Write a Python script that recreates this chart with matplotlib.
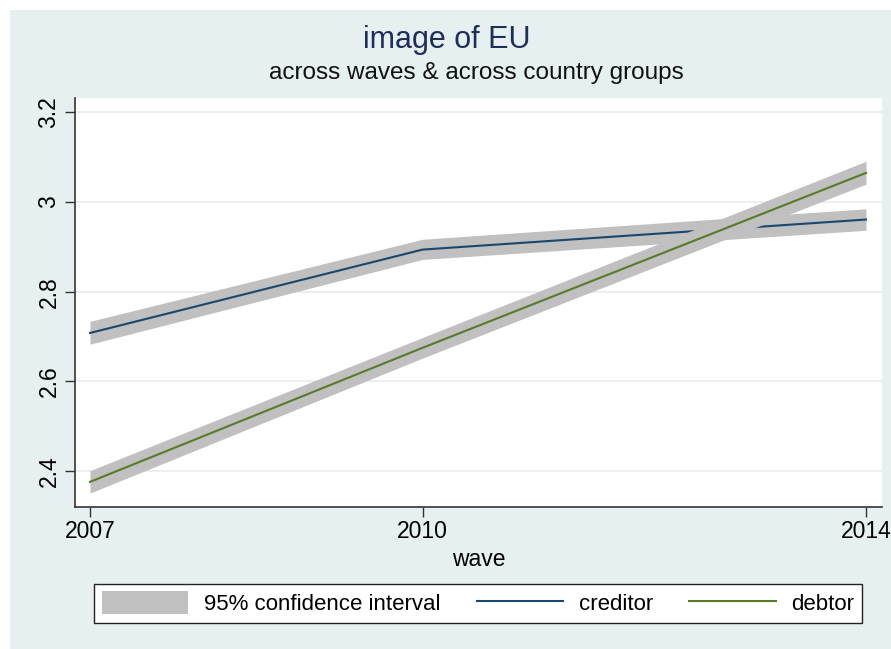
import matplotlib.pyplot as plt
from matplotlib.patches import Rectangle

plt.rcParams['font.family'] = ['Liberation Sans', 'DejaVu Sans']

waves = [2007, 2010, 2014]

creditor = [2.708, 2.894, 2.961]
creditor_lo = [2.683, 2.872, 2.937]
creditor_hi = [2.734, 2.917, 2.985]

debtor = [2.376, 2.675, 3.065]
debtor_lo = [2.351, 2.652, 3.040]
debtor_hi = [2.401, 2.698, 3.091]

y_ticks = [2.4, 2.6, 2.8, 3.0, 3.2]
y_labels = ['2.4', '2.6', '2.8', '3', '3.2']

W, H = 891, 649
fig = plt.figure(figsize=(W / 100, H / 100), dpi=100, facecolor='white')

# light background panel, white strip on top and left
bg = fig.add_axes([0, 0, 1, 1], zorder=-1)
bg.axis('off')
bg.add_patch(Rectangle((10 / W, 0), 1, 1 - 10 / H, transform=bg.transAxes,
                       facecolor='#e7f0f0', edgecolor='none'))

ax = fig.add_axes([75 / W, 142 / H, (882 - 75) / W, (507 - 98) / H], zorder=1)
ax.set_facecolor('white')

band = '#c0c0c0'
ax.fill_between(waves, creditor_lo, creditor_hi, color=band, lw=0, zorder=2)
ax.plot(waves, creditor, color='#1a476f', lw=1.5, zorder=3)
ax.fill_between(waves, debtor_lo, debtor_hi, color=band, lw=0, zorder=4)
ax.plot(waves, debtor, color='#5a7a2a', lw=1.5, zorder=5)

ax.set_xlim(2006.865, 2014.144)
ax.set_ylim(2.320, 3.232)
ax.set_xticks(waves)
ax.set_xticklabels([str(w) for w in waves], fontsize=16.5)
ax.set_yticks(y_ticks)
ax.set_yticklabels(y_labels, fontsize=16.5, rotation=90, va='center')
ax.grid(axis='y', color='#e8eceb', lw=1.2, zorder=1)
ax.set_axisbelow(True)
ax.tick_params(axis='both', direction='out', length=7, width=1, color='#333333')
ax.tick_params(axis='x', pad=2)
for s in ['top', 'right']:
    ax.spines[s].set_visible(False)
for s in ['left', 'bottom']:
    ax.spines[s].set_color('#333333')
    ax.spines[s].set_linewidth(1.2)

ax.set_xlabel('wave', fontsize=16.5, labelpad=4)

fig.text(447 / W, 1 - 40 / H, 'image of EU', ha='center', va='center',
         fontsize=22, color='#1e2d5a')
fig.text(476 / W, 1 - 73 / H, 'across waves & across country groups',
         ha='center', va='center', fontsize=17.5, color='#111111')

# legend entries
h_ci = Rectangle((0, 0), 1, 1, facecolor=band, edgecolor='none')
h_cr, = ax.plot([], [], color='#1a476f', lw=1.5)
h_db, = ax.plot([], [], color='#5a7a2a', lw=1.5)
leg = fig.legend([h_ci, h_cr, h_db], ['95% confidence interval', 'creditor', 'debtor'],
                 loc='lower left', ncol=3, mode='expand', borderaxespad=0,
                 bbox_to_anchor=(94 / W, 1 - 623 / H, (862 - 94) / W, 41 / H),
                 fontsize=16, frameon=True, fancybox=False, handlelength=3.9,
                 handleheight=1.2, handletextpad=0.7, borderpad=0.35,
                 facecolor='white', framealpha=1)
leg.get_frame().set_edgecolor('#222222')
leg.get_frame().set_linewidth(1.0)

fig.savefig('out.png', dpi=100, facecolor=fig.get_facecolor())
